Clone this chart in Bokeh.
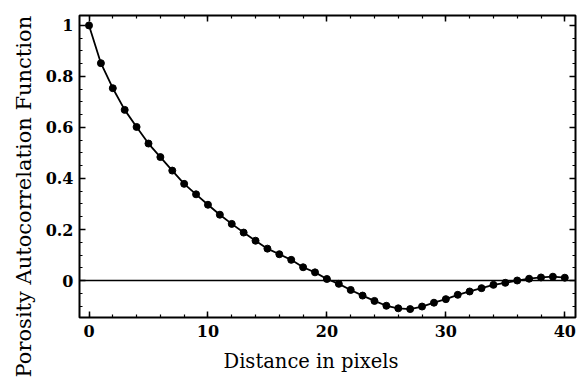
import numpy as np
from bokeh.plotting import figure
from bokeh.models import (Range1d, LinearAxis, FixedTicker, CustomJSTickFormatter, Span, Title)
from bokeh.embed import file_html
from bokeh.resources import INLINE

# ---- data ----
distance = list(range(0, 41))
autocorr = [1.000, 0.852, 0.754, 0.669, 0.602, 0.537, 0.484, 0.431, 0.379, 0.338,
            0.297, 0.258, 0.222, 0.188, 0.156, 0.125, 0.103, 0.081, 0.052, 0.032,
            0.006, -0.013, -0.037, -0.059, -0.080, -0.099, -0.109, -0.112, -0.102, -0.087,
            -0.073, -0.056, -0.043, -0.030, -0.017, -0.009, 0.000, 0.007, 0.012, 0.015,
            0.011]

x_ticks = [0, 10, 20, 30, 40]
x_tick_labels = ["0", "10", "20", "30", "40"]
y_ticks = [0.0, 0.2, 0.4, 0.6, 0.8, 1.0]
y_tick_labels = ["0", "0.2", "0.4", "0.6", "0.8", "1"]

x_title = "Distance in pixels"
y_title = "Porosity Autocorrelation Function"

FONT = "DejaVu Serif"

x_minor = [float(v) for v in np.arange(-0.0, 41.0, 2.0)]
y_minor = [round(float(v), 3) for v in np.arange(-0.10, 1.04, 0.05)]

p = figure(width=577, height=385, output_backend="svg", toolbar_location=None,
           x_range=Range1d(-0.8, 40.9), y_range=Range1d(-0.145, 1.039),
           x_axis_location=None, y_axis_location=None,
           min_border_left=79, min_border_right=2, min_border_top=15, min_border_bottom=68)
p.grid.visible = False
p.background_fill_color = "white"
p.border_fill_color = "white"
p.outline_line_color = "black"
p.outline_line_width = 2


def make_fmt(vals, labs):
    return CustomJSTickFormatter(args=dict(vals=vals, labs=labs), code="""
        for (let i = 0; i < vals.length; i++) {
            if (Math.abs(tick - vals[i]) < 1e-6) { return labs[i]; }
        }
        return '';
    """)


def style_axis(ax, show_labels):
    ax.axis_line_color = None
    ax.major_tick_in = 6
    ax.major_tick_out = 0
    ax.minor_tick_in = 3
    ax.minor_tick_out = 0
    ax.major_tick_line_color = "black"
    ax.minor_tick_line_color = "black"
    ax.major_tick_line_width = 1.5
    ax.minor_tick_line_width = 1.2
    if not show_labels:
        ax.major_label_text_font_size = "0px"
        ax.major_label_standoff = 0
    else:
        ax.major_label_text_font = FONT
        ax.major_label_text_font_size = "16px"
        ax.major_label_text_font_style = "bold"
        ax.major_label_text_color = "black"


xb = LinearAxis(ticker=FixedTicker(ticks=x_ticks, minor_ticks=x_minor),
                formatter=make_fmt(x_ticks, x_tick_labels))
style_axis(xb, True)
xb.major_label_standoff = 7
p.add_layout(xb, "below")

yl = LinearAxis(ticker=FixedTicker(ticks=y_ticks, minor_ticks=y_minor),
                formatter=make_fmt(y_ticks, y_tick_labels))
style_axis(yl, True)
yl.major_label_standoff = 6
p.add_layout(yl, "left")

xt = LinearAxis(ticker=FixedTicker(ticks=x_ticks, minor_ticks=x_minor),
                formatter=make_fmt([], []))
style_axis(xt, False)
p.add_layout(xt, "above")

yr = LinearAxis(ticker=FixedTicker(ticks=y_ticks, minor_ticks=y_minor),
                formatter=make_fmt([], []))
style_axis(yr, False)
p.add_layout(yr, "right")

# axis titles as side titles so they may extend past the frame
p.add_layout(Title(text=x_title, align="left", offset=144, standoff=16,
                   text_font=FONT, text_font_size="19.5px", text_font_style="normal",
                   text_color="black"), "below")
p.add_layout(Title(text=y_title, align="left", offset=-60, standoff=14,
                   text_font=FONT, text_font_size="21px", text_font_style="normal",
                   text_color="black"), "left")

p.add_layout(Span(location=0, dimension="width", line_color="black", line_width=1.6))

p.line(distance, autocorr, line_color="black", line_width=1.8)
p.scatter(distance, autocorr, size=7, fill_color="black", line_color="black")

open("out.html", "w").write(file_html(p, INLINE))
